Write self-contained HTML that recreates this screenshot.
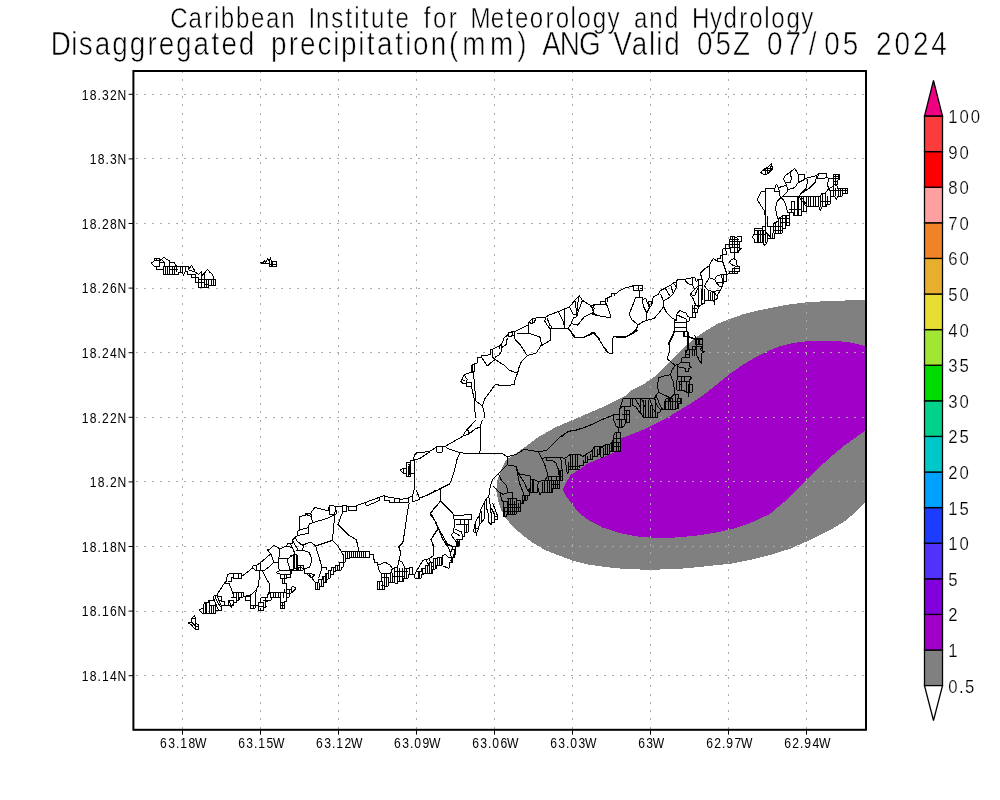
<!DOCTYPE html>
<html><head><meta charset="utf-8"><title>Disaggregated precipitation</title>
<style>
html,body{margin:0;padding:0;background:#fff;}
body{width:1000px;height:800px;overflow:hidden;}
svg{display:block;font-family:"Liberation Sans",sans-serif;}
</style></head><body>
<svg width="1000" height="800" viewBox="0 0 1000 800">
<rect x="0" y="0" width="1000" height="800" fill="#fff"/>
<polygon points="866.0,300.0 845.0,300.5 825.0,301.2 805.0,302.5 785.0,305.0 770.0,308.0 755.0,311.2 742.5,314.5 730.0,318.8 717.5,323.8 705.0,331.2 692.5,340.0 680.0,351.2 667.5,363.8 655.0,376.2 642.5,385.0 630.0,391.2 625.0,396.2 607.5,405.0 590.0,412.5 572.5,420.0 555.0,427.5 537.5,437.5 522.5,448.8 506.2,460.0 501.2,470.0 497.5,480.0 496.2,490.0 498.0,500.0 501.2,510.0 506.2,518.8 513.8,527.5 522.5,535.0 532.5,542.5 545.0,550.0 557.5,555.0 572.5,560.5 587.5,564.5 605.0,567.0 622.5,568.8 640.0,569.5 660.0,569.5 680.0,568.8 700.0,567.0 717.5,565.0 730.0,563.8 750.0,560.0 770.0,555.0 790.0,548.8 810.0,540.0 830.0,530.0 845.0,521.2 855.0,512.5 866.0,501.2" fill="#808080" shape-rendering="crispEdges"/>
<polygon points="866.0,346.2 857.5,344.0 847.5,342.0 835.0,340.8 820.0,340.8 805.0,341.5 792.5,343.0 780.0,346.2 767.5,351.2 755.0,357.5 742.5,365.0 730.0,373.8 717.5,383.8 705.0,393.8 692.5,402.5 680.0,410.0 667.5,417.5 655.0,423.8 642.5,430.0 630.0,435.0 620.0,438.6 620.0,450.2 611.0,453.8 602.0,457.6 587.6,463.6 578.0,470.6 570.8,474.6 566.0,482.8 563.0,489.5 566.2,496.2 572.5,505.0 580.0,513.8 590.0,521.2 602.5,527.5 617.5,532.5 635.0,536.2 655.0,538.0 675.0,537.5 695.0,535.8 712.5,533.2 730.0,529.5 737.5,527.5 755.0,521.2 770.0,513.8 785.0,501.2 800.0,486.2 815.0,471.2 830.0,457.5 845.0,445.0 857.5,436.2 866.0,430.0" fill="#a000c8" shape-rendering="crispEdges"/>
<g stroke="#aaaaaa" stroke-width="1" fill="none" shape-rendering="crispEdges"><g stroke-dasharray="2 6.3"><line x1="182.5" y1="71.0" x2="182.5" y2="729.8"/><line x1="260.5" y1="71.0" x2="260.5" y2="729.8"/><line x1="338.5" y1="71.0" x2="338.5" y2="729.8"/><line x1="416.5" y1="71.0" x2="416.5" y2="729.8"/><line x1="494.5" y1="71.0" x2="494.5" y2="729.8"/><line x1="572.5" y1="71.0" x2="572.5" y2="729.8"/><line x1="650.5" y1="71.0" x2="650.5" y2="729.8"/><line x1="728.5" y1="71.0" x2="728.5" y2="729.8"/><line x1="806.5" y1="71.0" x2="806.5" y2="729.8"/></g><g stroke-dasharray="2 6.07" stroke-dashoffset="5.9"><line x1="133.4" y1="94.3" x2="866.0" y2="94.3"/><line x1="133.4" y1="158.9" x2="866.0" y2="158.9"/><line x1="133.4" y1="223.5" x2="866.0" y2="223.5"/><line x1="133.4" y1="288.1" x2="866.0" y2="288.1"/><line x1="133.4" y1="352.7" x2="866.0" y2="352.7"/><line x1="133.4" y1="417.3" x2="866.0" y2="417.3"/><line x1="133.4" y1="481.9" x2="866.0" y2="481.9"/><line x1="133.4" y1="546.5" x2="866.0" y2="546.5"/><line x1="133.4" y1="611.1" x2="866.0" y2="611.1"/><line x1="133.4" y1="675.7" x2="866.0" y2="675.7"/></g></g>
<g fill="none" stroke="#000" stroke-width="1" stroke-linejoin="round" shape-rendering="crispEdges"><polyline points="151.2,263.2 154.4,260.8 154.4,258.4 159.5,258.4 159.5,260.8 161.6,259.2 163.7,257.3 166.4,259.2 169.6,260.8 169.6,262.4 174.4,262.4 176.0,265.6 178.4,266.4 188.0,266.4 188.0,269.6 189.6,268.0 191.5,265.3 193.6,268.8 195.2,272.0 198.4,274.4 201.6,272.0 201.6,276.0 204.0,273.6 207.5,269.6 210.4,272.8 212.8,274.4 213.6,279.2 215.5,279.7 215.5,285.6 208.8,285.6 208.8,287.5 198.4,287.5 198.4,282.4 195.2,282.4 195.2,277.6 191.2,277.6 191.2,274.4 187.7,274.4 187.7,271.2 184.8,272.0 183.5,275.2 182.4,272.0 178.4,272.0 178.4,274.4 163.2,274.4 163.2,269.6 156.8,269.6 156.8,266.4 154.4,266.4 151.2,263.2"/>
<polyline points="154.4,260.8 159.5,260.8 159.5,266.4 156.8,266.4"/>
<polyline points="156.8,258.4 156.8,260.8"/>
<polyline points="159.5,262.4 164.0,262.4 164.0,266.4 178.4,266.4"/>
<polyline points="163.2,269.6 163.2,266.4"/>
<polyline points="165.6,266.4 165.6,274.4"/>
<polyline points="167.2,266.4 167.2,274.4"/>
<polyline points="169.6,266.4 169.6,274.4"/>
<polyline points="172.8,266.4 172.8,274.4"/>
<polyline points="174.4,266.4 174.4,274.4"/>
<polyline points="176.8,266.4 176.8,272.0"/>
<polyline points="169.6,269.6 178.4,269.6"/>
<polyline points="180.8,266.4 180.8,272.0"/>
<polyline points="182.4,266.4 182.4,272.0"/>
<polyline points="185.6,266.4 185.6,272.0"/>
<polyline points="164.0,262.4 161.6,259.2"/>
<polyline points="169.6,262.4 169.6,266.4"/>
<polyline points="188.0,269.6 195.2,272.0"/>
<polyline points="191.2,274.4 195.2,274.4 195.2,277.6 198.4,277.6 198.4,282.4"/>
<polyline points="201.6,276.0 201.6,287.5"/>
<polyline points="204.0,273.6 204.0,287.5"/>
<polyline points="198.4,279.2 215.5,279.2"/>
<polyline points="206.4,279.2 206.4,287.5"/>
<polyline points="208.8,279.2 208.8,285.6"/>
<polyline points="211.2,279.2 211.2,285.6"/>
<polyline points="213.3,279.2 213.3,285.6"/>
<polyline points="198.4,282.4 204.0,282.4"/>
<polyline points="204.0,284.8 208.8,284.8"/>
<polyline points="260.3,262.9 263.2,262.4 264.8,260.8 266.4,261.6 267.7,258.9 269.3,261.6 270.4,257.3 271.5,261.6 276.3,261.6 276.3,266.4 269.3,266.4 269.3,263.2 266.4,264.0 263.2,263.2 260.3,262.9"/>
<polyline points="272.8,261.6 272.8,266.4"/>
<polyline points="271.2,261.6 271.2,266.4"/>
<polyline points="269.3,261.6 269.3,263.2"/>
<polyline points="269.3,264.0 276.3,264.0"/>
<polyline points="264.8,260.8 265.6,263.7"/>
<polyline points="188.1,623.1 191.2,621.9 191.9,618.1 194.4,615.6 195.6,618.1 195.6,623.8 198.8,624.4 198.8,629.4 195.6,629.4 192.5,626.2 191.2,624.4 188.1,623.1"/>
<polyline points="191.9,618.1 195.6,618.1"/>
<polyline points="191.9,618.1 191.9,622.5 195.6,626.2 195.6,623.8"/>
<polyline points="195.6,626.2 198.8,626.2"/>
<polyline points="195.6,626.2 195.6,629.4"/>
<polyline points="198.8,610.2 203.1,608.1 204.4,602.5 208.1,602.5 208.8,600.6 213.1,600.6 213.8,596.2 216.9,595.0 224.4,583.1 226.2,581.2 227.5,574.4 231.2,573.5 241.9,573.5 241.9,576.2 252.5,568.1 253.1,565.6 256.2,565.6 260.0,563.1 269.4,555.0 271.2,554.4 267.5,550.0 270.0,549.0 273.8,545.2 280.0,548.8 286.2,546.2 287.5,543.8 292.5,543.1 292.5,540.0"/>
<polyline points="198.8,610.2 202.5,613.5 215.6,613.5 215.6,610.6 221.2,610.6 221.2,605.6 228.1,605.6 228.1,603.1 229.4,600.6 231.2,608.1 233.8,602.5 236.2,602.5 236.2,600.6 238.8,600.6 240.0,597.5 243.8,596.9 245.6,596.2 245.6,600.6 250.6,600.6 250.6,608.1 255.0,608.1 255.0,605.0 258.1,605.0 258.1,610.2 263.8,610.2 263.8,608.1 266.9,606.2 265.0,605.6 265.0,602.5 267.5,601.2 267.5,600.0 271.2,600.0 271.2,597.5 280.6,597.5 280.6,608.1 284.4,608.1 284.4,601.9 286.2,601.9 286.2,597.5 289.4,596.9 289.4,593.8 291.9,592.5 296.2,588.1 292.5,586.2 290.6,589.4 286.9,589.4 286.9,583.1 282.5,583.1 282.5,578.8 280.6,578.8 280.6,574.4 276.2,572.5 280.0,570.6 278.8,568.8 278.8,558.8"/>
<polyline points="216.9,595.0 218.8,600.0 221.2,605.6"/>
<polyline points="215.0,596.2 217.5,602.5 221.2,607.5"/>
<polyline points="213.8,598.8 216.2,605.0 218.8,610.6"/>
<polyline points="216.9,596.9 221.2,596.9 221.2,601.2 224.4,601.2 224.4,605.0"/>
<polyline points="218.8,600.0 221.2,600.0"/>
<polyline points="205.6,602.5 205.6,613.5"/>
<polyline points="206.9,602.5 206.9,613.5"/>
<polyline points="209.4,600.6 209.4,613.5"/>
<polyline points="211.9,605.0 211.9,613.5"/>
<polyline points="213.8,605.0 213.8,613.5"/>
<polyline points="209.4,605.0 215.6,605.0 215.6,610.6"/>
<polyline points="203.1,608.1 203.1,613.5"/>
<polyline points="224.4,583.1 228.8,583.1 231.2,588.8 233.1,593.8 233.8,592.5 243.8,592.5 243.8,596.9"/>
<polyline points="227.5,581.2 231.9,581.2 231.9,577.5 233.1,577.5 233.1,573.5"/>
<polyline points="238.1,573.5 238.1,578.1"/>
<polyline points="233.1,578.1 241.9,578.1 241.9,576.2"/>
<polyline points="260.0,563.1 260.0,570.6 259.4,577.5 258.1,586.2 256.2,590.0 250.6,595.0 245.6,596.2"/>
<polyline points="256.2,590.0 255.0,605.0"/>
<polyline points="262.5,570.6 266.2,578.8 269.4,583.8 269.8,592.5"/>
<polyline points="252.5,568.1 255.0,570.0 260.0,570.6 265.0,570.0 270.0,566.2 273.8,562.5 278.1,562.5 278.1,558.8"/>
<polyline points="256.2,565.6 256.2,570.0"/>
<polyline points="271.2,554.4 273.8,562.5"/>
<polyline points="280.0,548.8 278.8,558.8 287.5,558.8 293.1,555.0 293.1,569.4 290.0,570.0 286.9,558.8"/>
<polyline points="278.1,562.5 278.8,568.8"/>
<polyline points="293.1,555.0 295.0,553.8 292.5,547.5 286.2,546.2"/>
<polyline points="294.4,555.0 294.4,569.4"/>
<polyline points="296.2,553.8 296.2,570.0"/>
<polyline points="297.5,555.0 297.5,570.0"/>
<polyline points="297.5,565.0 303.1,565.0 303.1,570.0 293.1,570.0"/>
<polyline points="300.0,565.0 300.0,570.0"/>
<polyline points="280.6,574.4 290.0,574.4"/>
<polyline points="282.5,578.8 286.9,578.8"/>
<polyline points="284.4,574.4 284.4,583.1"/>
<polyline points="286.9,574.4 286.9,578.8"/>
<polyline points="290.0,570.6 290.0,577.5 286.9,577.5"/>
<polyline points="280.0,570.6 290.0,570.6"/>
<polyline points="267.5,592.5 286.2,592.5"/>
<polyline points="270.0,592.5 270.0,597.5"/>
<polyline points="273.1,592.5 273.1,597.5"/>
<polyline points="275.6,592.5 275.6,597.5"/>
<polyline points="278.1,592.5 278.1,597.5"/>
<polyline points="280.6,592.5 280.6,597.5"/>
<polyline points="283.1,592.5 283.1,597.5"/>
<polyline points="286.2,589.4 286.2,597.5"/>
<polyline points="284.4,589.4 284.4,592.5"/>
<polyline points="289.4,589.4 289.4,593.8"/>
<polyline points="291.9,589.4 291.9,592.5"/>
<polyline points="286.2,593.8 289.4,593.8"/>
<polyline points="258.1,602.5 263.1,602.5 263.1,608.1"/>
<polyline points="260.6,597.5 260.6,602.5"/>
<polyline points="260.6,597.5 267.5,597.5 267.5,595.0 269.8,592.5"/>
<polyline points="258.1,602.5 258.1,605.0"/>
<polyline points="263.1,600.0 267.5,600.0"/>
<polyline points="265.0,597.5 265.0,602.5"/>
<polyline points="250.6,605.0 255.0,605.0"/>
<polyline points="253.1,605.0 253.1,608.1"/>
<polyline points="260.6,608.1 260.6,610.2"/>
<polyline points="258.1,606.9 263.8,606.9"/>
<polyline points="280.6,602.5 284.4,602.5"/>
<polyline points="282.5,602.5 282.5,608.1"/>
<polyline points="280.6,605.0 284.4,605.0"/>
<polyline points="228.1,600.6 233.8,600.6 233.8,605.0 228.1,605.0"/>
<polyline points="231.2,597.5 236.2,597.5 236.2,600.6"/>
<polyline points="233.8,592.5 233.8,597.5"/>
<polyline points="238.8,592.5 238.8,600.6"/>
<polyline points="241.2,592.5 241.2,596.9"/>
<polyline points="236.2,592.5 236.2,597.5"/>
<polyline points="245.6,596.2 250.0,596.2 250.0,600.6"/>
<polyline points="292.6,539.9 297.2,535.6 298.0,530.8 299.6,530.0 299.6,516.4 305.2,515.6 305.2,514.0 310.8,513.2 311.6,511.6 314.8,507.6 322.0,509.2 328.4,510.8 329.2,506.0 331.9,505.2 335.6,506.8 342.0,506.0 346.8,505.7 346.8,506.8 350.0,506.0 356.4,506.8 357.2,505.2 365.2,502.5 366.8,502.0 379.6,497.2 384.4,495.3 384.4,496.7 390.0,497.2 394.0,498.0 399.6,498.0 399.6,499.6 408.4,498.0 409.2,497.2 412.4,496.4 414.0,490.0"/>
<polyline points="416.4,490.0 419.3,498.0 422.8,497.2 429.2,494.0 434.8,490.8 438.0,490.0"/>
<polyline points="329.2,506.0 329.2,514.0 334.8,514.0 335.6,506.8"/>
<polyline points="342.0,506.0 342.0,511.6 346.8,511.6 346.8,505.7"/>
<polyline points="348.4,506.8 348.4,510.8 356.4,510.8 356.4,506.8"/>
<polyline points="365.2,503.6 366.8,506.0 379.6,500.4 379.6,497.2"/>
<polyline points="384.4,496.7 384.4,500.4 389.2,500.4 389.2,502.8 399.6,502.8 399.6,498.0"/>
<polyline points="394.0,498.0 394.0,502.8"/>
<polyline points="399.6,502.8 408.4,502.8 408.4,498.0"/>
<polyline points="412.4,496.4 412.4,502.0 419.3,499.6 419.3,498.0"/>
<polyline points="299.6,530.0 308.4,527.6 309.2,523.6 312.4,522.8 328.4,518.0 334.8,514.8"/>
<polyline points="310.8,513.2 312.4,522.8"/>
<polyline points="305.2,514.0 310.8,516.4"/>
<polyline points="297.2,535.6 308.4,533.2 308.4,527.6"/>
<polyline points="335.6,506.8 336.4,514.0 334.8,514.8 333.2,531.6 332.4,540.4"/>
<polyline points="342.8,511.6 338.0,524.4 349.2,535.6 356.4,539.6 358.8,550.8"/>
<polyline points="332.4,540.4 315.6,546.0 310.8,542.0 304.4,544.4 302.0,550.0 296.4,550.8"/>
<polyline points="332.4,540.4 338.0,546.0 341.2,551.6 345.2,551.6"/>
<polyline points="315.6,546.0 318.0,554.0 321.2,564.4 321.2,570.0 318.8,578.0"/>
<polyline points="302.0,550.0 309.2,552.4 311.6,558.8 311.6,562.0 309.2,567.6 305.2,568.4"/>
<polyline points="294.8,536.4 297.2,541.2 302.0,545.2 304.4,544.4"/>
<polyline points="292.4,539.6 294.8,544.4 298.0,550.0"/>
<polyline points="290.0,542.8 293.2,549.2 294.8,554.0"/>
<polyline points="290.0,555.6 296.4,554.8 296.4,565.2 298.8,567.6 304.4,568.4 304.4,573.2 308.4,573.2 314.8,574.8 311.6,578.0 306.8,574.0"/>
<polyline points="293.2,555.6 293.2,570.0 290.0,570.0"/>
<polyline points="294.8,558.8 294.8,568.4 298.8,568.4 298.8,570.0 302.8,570.0"/>
<polyline points="290.0,573.2 291.6,573.2 291.6,570.0"/>
<polyline points="308.4,573.2 315.6,582.8 315.6,589.2 319.6,589.2 319.6,586.0 323.6,586.0 323.6,582.8 326.8,582.0 326.8,579.6 330.0,578.0 330.0,574.8 333.2,574.8 333.2,571.6 337.2,570.8 337.2,570.0 341.2,570.0 341.2,567.6 343.6,566.8 343.6,562.8 345.2,562.0 345.2,558.8 349.2,558.8 349.2,557.2 369.2,557.2 369.2,554.8 373.2,554.8 373.2,559.6 374.8,559.6 374.8,562.8 377.7,562.8 377.7,565.2 379.6,571.6 381.2,573.2 381.2,581.2 377.7,581.2 377.7,589.2 384.4,589.2 384.4,586.0 388.4,586.0 388.4,582.8 394.0,582.8 397.2,583.6 397.2,581.2 403.6,581.2 403.6,578.0 408.4,578.0 408.4,574.8 414.8,574.8 414.8,578.0 421.2,578.0 421.2,574.8 426.0,573.2 432.4,573.2 432.4,570.0 436.4,568.4 436.4,566.0 442.0,565.2 442.8,555.6 445.2,554.0 448.4,557.2 450.0,557.2"/>
<polyline points="341.2,551.6 369.2,551.6 369.2,554.8"/>
<polyline points="345.2,551.6 345.2,558.8"/>
<polyline points="347.3,551.6 347.3,558.8"/>
<polyline points="349.2,551.6 349.2,557.2"/>
<polyline points="351.6,551.6 351.6,557.2"/>
<polyline points="353.7,551.6 353.7,557.2"/>
<polyline points="355.6,551.6 355.6,557.2"/>
<polyline points="357.5,551.6 357.5,557.2"/>
<polyline points="359.6,551.6 359.6,557.2"/>
<polyline points="361.7,551.6 361.7,557.2"/>
<polyline points="363.6,551.6 363.6,557.2"/>
<polyline points="365.2,551.6 365.2,557.2"/>
<polyline points="341.2,551.6 343.6,555.6 343.6,562.8"/>
<polyline points="343.6,562.8 339.6,562.8 339.6,565.2 335.6,565.2 335.6,567.6 331.9,567.6 331.9,570.0 328.4,570.0 328.4,573.2 325.2,573.2 325.2,576.4 322.0,576.4 322.0,579.6 318.8,579.6 318.8,582.8 315.6,582.8"/>
<polyline points="339.6,565.2 339.6,570.0"/>
<polyline points="337.2,565.2 337.2,570.0"/>
<polyline points="335.6,567.6 335.6,570.8"/>
<polyline points="333.2,567.6 333.2,571.6"/>
<polyline points="330.0,570.0 330.0,574.8"/>
<polyline points="328.4,573.2 328.4,578.8"/>
<polyline points="326.8,573.2 326.8,579.6"/>
<polyline points="323.6,576.4 323.6,582.8"/>
<polyline points="325.2,576.4 325.2,582.0"/>
<polyline points="321.2,579.6 321.2,586.0"/>
<polyline points="319.6,582.8 319.6,586.0"/>
<polyline points="317.5,582.8 317.5,589.2"/>
<polyline points="322.0,567.6 326.8,567.6 326.8,570.0"/>
<polyline points="377.7,565.2 385.2,562.3 390.0,565.2 392.4,568.4 390.8,573.2 381.2,573.2"/>
<polyline points="392.4,568.4 395.6,567.6 397.5,567.6 398.8,560.4 402.0,562.0 405.2,568.4 409.2,568.4 409.2,567.6 412.4,567.6 412.4,574.8"/>
<polyline points="381.2,577.2 388.4,577.2 388.4,582.8"/>
<polyline points="384.4,573.2 384.4,586.0"/>
<polyline points="386.0,573.2 386.0,586.0"/>
<polyline points="379.6,581.2 379.6,589.2"/>
<polyline points="382.0,581.2 382.0,589.2"/>
<polyline points="390.8,573.2 390.8,582.8"/>
<polyline points="392.4,573.2 392.4,582.8"/>
<polyline points="394.8,568.4 394.8,582.8"/>
<polyline points="397.2,567.6 397.2,581.2"/>
<polyline points="399.6,568.4 399.6,581.2"/>
<polyline points="402.0,568.4 402.0,581.2"/>
<polyline points="404.4,568.4 404.4,578.0"/>
<polyline points="406.8,568.4 406.8,578.0"/>
<polyline points="409.2,568.4 409.2,574.8"/>
<polyline points="392.4,576.4 403.6,576.4"/>
<polyline points="394.8,571.6 408.4,571.6"/>
<polyline points="381.2,585.2 384.4,585.2"/>
<polyline points="409.2,502.8 407.6,510.8 406.0,522.0 404.4,533.2 402.8,542.8 398.8,546.8 400.4,551.6 399.6,560.4"/>
<polyline points="440.4,490.0 440.4,501.2 430.0,514.0 434.8,520.4 438.0,528.4 430.8,539.6 434.0,546.0 433.2,555.6 429.2,558.8 422.8,560.4 418.0,568.4 416.4,571.6 414.8,574.8"/>
<polyline points="440.4,501.2 450.0,510.8"/>
<polyline points="434.8,520.4 440.4,531.6 447.6,544.4 450.0,546.0"/>
<polyline points="416.4,571.6 421.2,571.6 421.2,568.4 425.2,568.4 425.2,565.2 429.2,565.2 429.2,562.0 433.2,562.0 433.2,558.8 437.2,558.8 437.2,557.2 442.8,557.2"/>
<polyline points="418.0,571.6 418.0,578.0"/>
<polyline points="419.6,571.6 419.6,578.0"/>
<polyline points="422.8,568.4 422.8,574.8"/>
<polyline points="425.2,568.4 425.2,573.2"/>
<polyline points="427.3,565.2 427.3,573.2"/>
<polyline points="429.2,565.2 429.2,573.2"/>
<polyline points="431.1,562.0 431.1,573.2"/>
<polyline points="433.2,562.0 433.2,570.0"/>
<polyline points="435.3,558.8 435.3,568.7"/>
<polyline points="437.2,558.8 437.2,566.0"/>
<polyline points="439.1,557.2 439.1,565.5"/>
<polyline points="441.0,557.2 441.0,565.2"/>
<polyline points="429.2,558.8 432.4,566.8"/>
<polyline points="426.0,560.4 429.2,565.2"/>
<polyline points="420.0,452.8 429.6,451.2 436.8,447.2 436.8,446.4 442.4,446.4 442.4,452.0 436.8,452.0 436.8,447.2"/>
<polyline points="442.4,446.4 445.6,446.4 446.4,445.6 463.2,436.0 465.6,431.2 468.0,430.4 469.6,433.6 463.2,436.0"/>
<polyline points="469.6,433.6 475.2,428.8 480.0,427.2 480.8,431.2 480.8,447.2 479.5,453.6"/>
<polyline points="465.6,431.2 476.0,420.0"/>
<polyline points="480.0,427.2 482.4,420.0"/>
<polyline points="420.0,458.4 429.6,452.0"/>
<polyline points="445.6,446.4 448.0,448.8 460.0,452.8 472.0,453.6 479.5,453.6 490.4,453.6 502.4,453.6 507.2,456.8 508.0,460.0 507.2,464.8 498.4,473.6 492.8,479.2 490.4,485.6 488.8,496.8 486.4,498.4 480.8,509.6 479.2,516.0 476.8,519.2 474.4,525.6 473.6,532.0 476.0,532.0 476.0,536.0"/>
<polyline points="460.0,452.8 456.8,460.0 454.4,471.2 451.2,480.8 449.6,484.0 440.0,488.8 429.6,494.4 420.0,497.6"/>
<polyline points="440.0,488.8 440.8,500.8 430.4,512.8 436.0,522.4 438.4,528.8 431.2,539.2 433.6,548.0"/>
<polyline points="438.4,528.8 442.4,538.4 447.2,546.4"/>
<polyline points="440.8,500.8 447.2,507.2 453.6,514.4 454.4,524.0 453.6,532.0 451.2,535.2 454.4,539.2 456.0,541.6 456.0,546.4 458.4,546.4"/>
<polyline points="453.6,515.2 462.4,515.2 468.0,514.4 471.2,514.4 471.2,519.2 468.0,519.2 468.0,532.0 464.8,532.0 464.8,536.0 462.4,536.0 462.4,539.2 459.2,539.2 459.2,546.4"/>
<polyline points="454.4,519.2 468.0,519.2"/>
<polyline points="456.0,524.0 468.0,524.0"/>
<polyline points="460.0,519.2 460.0,524.0"/>
<polyline points="464.0,519.2 464.0,532.0"/>
<polyline points="466.4,524.0 466.4,532.0"/>
<polyline points="454.4,528.8 461.6,532.0 462.4,536.0"/>
<polyline points="453.6,532.0 460.0,536.0"/>
<polyline points="456.0,539.2 459.2,539.2"/>
<polyline points="456.0,541.6 459.2,541.6"/>
<polyline points="457.6,539.2 457.6,546.4"/>
<polyline points="507.2,456.8 516.0,454.4 524.0,449.6 532.0,450.4 538.4,452.0 546.4,450.4 552.8,444.0 559.2,437.6 567.2,432.0 573.6,430.4 580.0,429.6"/>
<polyline points="538.4,452.0 541.6,458.4 544.8,464.8 547.2,472.8 548.0,476.0"/>
<polyline points="541.6,458.4 546.4,457.6 552.8,457.6 560.8,457.6 564.8,458.4 570.4,454.4 580.0,454.4"/>
<polyline points="552.8,460.8 556.0,463.2 558.4,469.6 559.2,476.0"/>
<polyline points="546.4,457.6 546.4,460.0 552.8,460.8"/>
<polyline points="560.8,457.6 561.6,468.0 562.4,470.4 562.4,480.8"/>
<polyline points="564.8,458.4 565.6,461.6 567.2,473.6 568.8,471.2 568.8,461.6"/>
<polyline points="570.4,454.4 570.4,469.6"/>
<polyline points="572.8,454.4 572.8,469.6"/>
<polyline points="575.2,454.4 575.2,469.6"/>
<polyline points="577.6,454.4 577.6,469.6"/>
<polyline points="568.8,466.4 580.0,466.4"/>
<polyline points="568.8,469.6 580.0,469.6"/>
<polyline points="507.2,464.8 516.0,466.4 518.4,473.6 530.4,476.0 530.4,479.2 533.6,479.2 533.6,492.0 529.6,492.0 529.6,488.8 527.2,489.6"/>
<polyline points="516.0,466.4 517.6,474.4 519.2,482.4 522.4,490.4 524.0,495.2"/>
<polyline points="518.4,473.6 524.8,483.2 527.2,489.6 529.6,492.0"/>
<polyline points="498.4,473.6 501.6,480.8 506.4,485.6 508.0,492.8 512.8,492.8 512.8,498.4"/>
<polyline points="492.8,485.6 500.0,492.8 503.2,494.4 508.0,492.8"/>
<polyline points="500.0,492.8 501.6,500.0 503.2,501.6 503.2,516.8 506.4,516.8 506.4,514.4 516.0,514.4 516.0,511.2 520.5,511.2 520.5,503.2 523.2,503.2 523.2,500.0 527.2,500.0 527.2,495.2 529.6,495.2 529.6,492.0"/>
<polyline points="503.2,501.6 507.2,501.6 507.2,514.4"/>
<polyline points="508.8,498.4 508.8,514.4"/>
<polyline points="510.4,498.4 510.4,514.4"/>
<polyline points="512.8,498.4 512.8,514.4"/>
<polyline points="514.4,500.8 514.4,514.4"/>
<polyline points="516.8,500.8 516.8,511.2"/>
<polyline points="518.4,503.2 518.4,511.2"/>
<polyline points="507.2,498.4 516.0,498.4 516.0,500.8 520.5,500.8 520.5,503.2"/>
<polyline points="503.2,507.2 520.5,507.2"/>
<polyline points="507.2,504.0 516.8,504.0"/>
<polyline points="524.0,495.2 524.0,500.0"/>
<polyline points="525.6,495.2 525.6,500.0"/>
<polyline points="522.4,495.2 527.2,495.2"/>
<polyline points="522.4,495.2 522.4,503.2"/>
<polyline points="503.2,511.2 516.0,511.2"/>
<polyline points="504.8,507.2 504.8,516.8"/>
<polyline points="533.6,479.2 538.4,481.6 537.6,487.2 540.0,495.2 541.6,492.0 552.8,492.0 552.8,488.8 559.2,488.8 559.2,480.8 562.4,480.8"/>
<polyline points="548.0,476.0 562.4,476.0"/>
<polyline points="548.0,476.0 544.8,480.0 538.4,481.6"/>
<polyline points="544.8,480.0 559.2,480.0"/>
<polyline points="542.4,482.4 542.4,492.0"/>
<polyline points="544.8,480.0 544.8,492.0"/>
<polyline points="547.2,480.0 547.2,492.0"/>
<polyline points="549.3,480.0 549.3,492.0"/>
<polyline points="551.2,480.0 551.2,492.0"/>
<polyline points="553.6,480.8 553.6,488.8"/>
<polyline points="555.7,480.8 555.7,488.8"/>
<polyline points="557.6,480.8 557.6,488.8"/>
<polyline points="548.0,476.0 548.0,480.0"/>
<polyline points="551.2,476.0 551.2,480.0"/>
<polyline points="556.0,476.0 556.0,480.8"/>
<polyline points="533.6,492.0 537.6,492.0 537.6,487.2"/>
<polyline points="559.2,480.8 559.2,470.4 562.4,470.4"/>
<polyline points="560.8,470.4 560.8,480.8"/>
<polyline points="551.2,484.0 559.2,484.0"/>
<polyline points="530.4,479.2 530.4,492.0"/>
<polyline points="532.0,479.2 532.0,492.0"/>
<polyline points="488.8,496.8 490.4,506.4 491.2,514.4 491.2,524.8 488.8,522.4 488.8,516.0 486.4,507.2 486.4,498.4"/>
<polyline points="490.4,506.4 494.4,514.4 494.4,522.4 491.2,522.4"/>
<polyline points="494.4,516.0 497.6,516.0 497.6,519.2 494.4,519.2"/>
<polyline points="492.8,503.2 495.2,509.6 497.6,516.0"/>
<polyline points="480.8,509.6 481.6,516.0 481.6,522.4 479.2,524.8 477.6,532.0"/>
<polyline points="484.0,503.2 484.0,519.2 481.6,522.4"/>
<polyline points="479.2,516.0 479.2,525.6"/>
<polyline points="473.6,528.8 477.6,528.8"/>
<polyline points="475.2,522.4 475.2,532.0"/>
<polyline points="570.4,330.0 572.8,335.6 576.0,338.0 584.0,337.2 590.4,334.8 594.4,332.4 598.4,338.0 603.2,346.0 609.6,354.0 612.8,353.2 612.8,338.0 615.2,336.4 627.2,336.4 633.6,333.2 637.6,330.0"/>
<polyline points="674.4,330.0 672.0,336.4 668.8,342.8 669.6,350.8 667.2,358.8 672.0,362.8 675.2,365.2 678.4,364.4 681.6,362.0 681.6,358.0 685.6,357.2 685.6,350.8 689.6,349.2 696.0,349.2 696.0,338.8 702.4,338.8 702.4,350.8 704.8,351.6 701.6,353.2 701.6,363.6 699.2,360.4 697.6,356.4 696.0,355.6 696.0,349.2"/>
<polyline points="674.4,330.0 674.4,331.6 684.0,331.6 684.0,336.4 688.0,336.4 688.0,331.6 684.0,331.6"/>
<polyline points="688.0,336.4 696.0,338.8"/>
<polyline points="688.0,336.4 688.0,349.2"/>
<polyline points="695.2,335.6 696.0,338.8"/>
<polyline points="696.0,344.4 702.4,344.4"/>
<polyline points="699.2,338.8 699.2,344.4"/>
<polyline points="689.6,349.2 689.6,357.2 681.6,358.0"/>
<polyline points="692.0,349.2 692.0,356.4"/>
<polyline points="694.4,349.2 694.4,355.6"/>
<polyline points="685.6,354.0 689.6,354.0"/>
<polyline points="681.6,362.0 689.6,362.0 689.6,366.0 692.0,367.6 688.8,368.4 688.8,371.6 685.6,371.6 685.6,368.4 678.4,366.8 677.6,365.2"/>
<polyline points="675.2,365.2 672.0,370.0 670.4,374.8 662.4,376.4 658.4,378.0 657.6,386.0 658.4,392.4 656.0,395.6 654.4,398.8"/>
<polyline points="670.4,374.8 673.6,382.8 674.4,390.8 674.4,394.0 678.4,394.0 678.4,398.0 681.6,398.0 681.6,403.6 678.4,403.6 678.4,408.4 675.2,408.4 675.2,409.2 664.0,409.2"/>
<polyline points="677.6,365.2 677.6,376.4 689.6,376.4 692.0,378.0 689.6,379.6 689.6,384.4 692.0,384.4 692.0,392.4 688.8,392.4 688.8,396.4 688.0,392.4 684.8,391.6 684.8,390.0 676.8,390.0 676.8,381.2 677.6,376.4"/>
<polyline points="681.6,376.4 681.6,390.0"/>
<polyline points="679.2,381.2 679.2,390.0"/>
<polyline points="677.6,381.2 689.6,381.2"/>
<polyline points="686.4,381.2 686.4,391.6"/>
<polyline points="688.0,384.4 688.0,392.4"/>
<polyline points="689.6,384.4 689.6,392.4"/>
<polyline points="679.2,384.4 681.6,384.4"/>
<polyline points="684.0,376.4 684.0,381.2"/>
<polyline points="658.4,392.4 665.6,395.6 670.4,398.0 674.4,394.0"/>
<polyline points="670.4,398.0 668.8,401.2 668.8,409.2"/>
<polyline points="656.0,395.6 660.8,406.8 662.4,409.2"/>
<polyline points="654.4,398.8 623.2,398.8 620.0,408.4 621.6,406.8 630.4,406.8 630.4,398.8"/>
<polyline points="624.0,406.8 624.0,410.0 629.6,410.0 629.6,422.8 625.6,422.8 624.0,426.0 621.6,427.6 619.2,427.6 616.0,426.0 613.6,419.6 613.6,414.8 619.2,414.0 620.0,408.4"/>
<polyline points="632.0,398.8 632.0,405.2 636.0,406.8 638.4,410.8 641.6,414.0 643.2,417.2 657.6,417.2 657.6,412.4 660.0,412.4 661.6,409.2 664.0,409.2 664.0,401.2 665.6,401.2"/>
<polyline points="640.0,398.8 640.0,411.6"/>
<polyline points="643.2,400.4 643.2,417.2"/>
<polyline points="645.6,400.4 645.6,417.2"/>
<polyline points="648.0,400.4 648.0,417.2"/>
<polyline points="650.4,405.2 650.4,417.2"/>
<polyline points="652.8,405.2 652.8,417.2"/>
<polyline points="655.2,398.8 655.2,417.2"/>
<polyline points="635.2,398.8 640.0,406.8"/>
<polyline points="641.6,398.8 644.8,406.8"/>
<polyline points="649.6,398.8 652.8,408.4 656.0,413.2"/>
<polyline points="654.4,398.8 657.6,406.8 660.8,410.0"/>
<polyline points="665.6,398.8 665.6,409.2"/>
<polyline points="668.0,398.8 668.0,409.2"/>
<polyline points="670.4,398.8 670.4,409.2"/>
<polyline points="672.8,398.0 672.8,409.2"/>
<polyline points="675.2,394.0 675.2,409.2"/>
<polyline points="677.6,398.0 677.6,408.4"/>
<polyline points="680.0,398.0 680.0,403.6"/>
<polyline points="665.6,401.2 681.6,401.2"/>
<polyline points="665.6,398.8 672.0,398.8"/>
<polyline points="613.6,414.8 608.0,417.2 600.0,420.4 592.0,424.4 584.0,427.6 576.0,430.0 571.2,430.8 566.4,432.4 563.2,435.6 560.0,437.2"/>
<polyline points="616.0,426.0 618.4,427.6 618.4,432.4 615.2,432.4 613.6,435.6 613.6,442.0 620.0,442.0 620.0,432.4 618.4,432.4"/>
<polyline points="613.6,438.8 620.0,438.8"/>
<polyline points="616.0,432.4 616.0,442.0"/>
<polyline points="613.6,442.0 613.6,451.6 620.0,451.6 620.0,442.0"/>
<polyline points="616.0,442.0 616.0,451.6"/>
<polyline points="618.4,442.0 618.4,451.6"/>
<polyline points="613.6,446.8 620.0,446.8"/>
<polyline points="621.6,427.6 621.6,419.6 625.6,419.6 625.6,422.8"/>
<polyline points="619.2,414.0 619.2,427.6"/>
<polyline points="624.0,410.0 624.0,419.6"/>
<polyline points="626.4,410.0 626.4,422.8"/>
<polyline points="616.0,419.6 621.6,419.6"/>
<polyline points="621.6,414.8 629.6,414.8"/>
<polyline points="460.8,381.2 464.0,374.8 471.2,372.4 472.0,365.2 474.4,363.6 477.6,362.8 477.6,357.2 481.6,357.2 481.6,355.6 490.4,354.8 490.4,350.0 492.8,349.2 499.2,346.0 501.6,344.4 504.0,338.0 507.2,335.6 508.8,332.4 514.4,331.6 516.8,330.8 528.0,325.2 528.8,322.0 532.8,318.8 536.0,318.0 545.6,317.2 549.6,314.8 558.4,311.6 569.6,306.8 572.8,302.8 579.2,295.6 582.4,300.4 588.8,304.4 592.8,306.0 596.0,304.4 600.0,304.4"/>
<polyline points="460.8,381.2 463.2,383.6 466.4,382.8 466.4,386.0 471.2,386.0 471.2,382.8 466.4,382.8"/>
<polyline points="464.0,374.8 467.2,379.6 466.4,382.8"/>
<polyline points="462.4,379.6 465.6,381.2"/>
<polyline points="471.2,386.0 472.8,392.4 474.4,400.4 474.4,408.4 476.0,418.0"/>
<polyline points="471.2,372.4 473.6,372.4 474.4,384.4 475.2,392.4 475.2,400.4 482.4,406.0 484.0,411.6 484.0,418.0"/>
<polyline points="474.4,400.4 475.2,400.4"/>
<polyline points="472.0,365.2 472.0,371.6 474.4,371.6 474.4,363.6"/>
<polyline points="482.4,406.0 484.8,398.8 489.6,392.4 495.2,384.4 504.0,386.0 510.4,385.2 514.4,384.4 515.2,378.8 517.6,373.2 519.2,366.8 521.6,361.2 527.2,355.6"/>
<polyline points="481.6,357.2 487.2,366.0 493.6,360.4 495.2,359.6 504.0,365.2 508.8,370.0 517.6,373.2"/>
<polyline points="490.4,350.0 490.4,354.8"/>
<polyline points="492.8,349.2 492.8,357.2 495.2,359.6"/>
<polyline points="495.2,357.2 499.2,354.8 501.6,350.8 501.6,344.4 499.2,345.2 499.2,349.2"/>
<polyline points="501.6,347.6 506.4,344.4 507.2,338.0"/>
<polyline points="508.8,332.4 508.8,336.4 514.4,335.6 514.4,331.6"/>
<polyline points="512.8,331.6 512.8,335.6"/>
<polyline points="514.4,335.6 515.2,339.6 520.0,344.4 523.2,349.2 527.2,355.6"/>
<polyline points="527.2,355.6 536.0,353.2 540.8,346.0 550.4,340.4 550.4,328.4 568.0,328.4 572.8,334.0 576.0,338.0 584.0,337.2 593.6,332.4 600.0,339.6"/>
<polyline points="516.8,333.2 528.8,333.2 536.0,335.6 540.0,337.2 541.6,344.4 540.8,346.0"/>
<polyline points="528.8,325.2 528.8,333.2"/>
<polyline points="528.0,322.0 532.0,323.6 532.8,318.8"/>
<polyline points="536.0,318.0 534.4,322.0 532.0,323.6"/>
<polyline points="545.6,317.2 544.8,321.2 548.8,327.6 550.4,328.4"/>
<polyline points="547.2,318.0 549.6,325.2 551.2,326.0 551.2,328.4"/>
<polyline points="558.4,311.6 563.2,321.2 564.8,328.4"/>
<polyline points="564.8,309.2 564.8,328.4"/>
<polyline points="569.6,306.8 572.8,314.0 576.0,314.0 576.0,317.2 573.6,317.2 571.2,323.6 568.0,328.4"/>
<polyline points="575.2,301.2 576.8,314.0"/>
<polyline points="579.2,295.6 577.6,304.4 576.8,314.0"/>
<polyline points="582.4,300.4 578.4,310.8 576.8,316.4"/>
<polyline points="571.2,323.6 577.6,325.2 584.0,317.2 592.8,312.4 594.4,308.4 592.8,306.0"/>
<polyline points="592.8,312.4 595.2,314.8 600.0,315.6"/>
<polyline points="590.0,305.0 593.2,305.0 600.4,304.2 600.4,301.8 605.2,301.8 605.2,298.6 607.6,297.8 611.6,296.2 611.6,293.8 616.4,293.8 619.6,290.6 624.4,288.2 633.2,285.8 642.0,285.5 642.0,290.6 639.6,290.6 639.6,297.0 642.0,297.0 642.0,299.4 646.0,298.6 647.6,303.4 648.4,301.8 651.6,301.8 651.6,305.8 653.2,297.0 658.8,293.8 660.4,290.6 665.2,288.2 670.8,285.0 673.2,282.6 676.4,282.6 677.2,279.4 684.4,279.4 692.4,277.8 694.8,277.8 696.4,281.8 698.0,279.4 702.0,279.4 700.4,273.0 704.4,269.0 709.2,265.8 710.8,262.6 713.2,258.6 717.2,261.0 718.0,258.6 720.4,258.6 720.4,255.4 722.8,254.6 722.8,249.0 725.2,248.2 725.2,244.2 729.2,244.2 729.2,239.4 730.8,239.4 730.8,236.5 734.8,236.5 734.8,237.8 738.8,236.5 741.2,236.5 741.2,241.8 739.6,241.8 739.6,248.2 742.0,248.2 738.8,250.6 738.8,252.2 734.0,252.2 734.0,258.6 736.4,260.2 737.2,266.6 739.6,266.6 739.6,271.4 737.2,271.4 737.2,273.8 729.2,273.8 726.0,274.6 726.0,281.8 723.6,281.8 722.0,286.6 720.4,290.6 718.0,293.8 717.2,298.6 714.8,300.2 714.8,304.2 713.2,300.2 708.4,300.2 704.4,300.2 704.4,303.4 702.0,304.2 698.8,306.6 697.2,312.2 695.6,312.2 695.6,317.0 689.2,317.0 689.2,321.0 686.0,321.8 686.0,330.6 687.6,331.4 687.6,337.0 695.6,339.4 694.8,335.4 695.6,339.4 702.0,339.4 702.0,346.6 700.4,349.8 704.4,352.2"/>
<polyline points="590.0,305.0 592.4,308.2 593.2,312.2 591.6,313.8 596.4,315.4 606.0,317.0 610.8,317.0 609.2,311.4 606.8,305.0 605.2,301.8"/>
<polyline points="600.4,304.2 606.8,305.0"/>
<polyline points="605.2,298.6 607.6,298.6 607.6,301.8"/>
<polyline points="614.0,293.8 614.0,296.2"/>
<polyline points="633.2,285.8 633.2,290.6 639.6,290.6"/>
<polyline points="638.0,285.8 638.0,290.6"/>
<polyline points="639.6,288.2 642.0,288.2"/>
<polyline points="648.4,301.8 648.4,306.6 651.6,305.8"/>
<polyline points="590.0,333.8 593.2,332.2 599.6,340.2 604.4,348.2 607.6,353.0"/>
<polyline points="612.4,353.0 612.4,338.6 614.0,336.2 616.4,337.0 626.0,337.0 633.2,332.2 636.4,329.0 638.0,325.0 631.6,319.4 629.2,313.8 631.6,308.2 635.6,297.8 639.6,297.0"/>
<polyline points="638.0,325.0 642.8,321.8 646.8,320.2 654.0,318.6 658.8,313.0 663.6,306.6 663.6,301.0 660.4,293.8"/>
<polyline points="646.8,320.2 646.8,313.0 643.6,306.6 642.0,299.4"/>
<polyline points="646.8,313.0 650.0,306.6 648.4,301.8"/>
<polyline points="663.6,306.6 666.8,313.0 671.6,317.8 676.4,320.2 676.4,314.6 679.6,310.6 686.0,313.0 687.6,316.2 689.2,317.0"/>
<polyline points="676.4,314.6 686.8,319.4 686.0,321.8"/>
<polyline points="674.8,322.6 686.0,322.6"/>
<polyline points="674.8,327.4 686.0,327.4"/>
<polyline points="676.4,320.2 674.8,320.2 674.8,331.4 686.0,331.4"/>
<polyline points="674.8,331.4 672.4,337.0 669.2,343.4 669.2,353.0"/>
<polyline points="683.6,331.4 683.6,336.2 687.6,337.0"/>
<polyline points="663.6,301.0 670.0,297.0 673.2,293.8 676.4,287.4 677.2,279.4"/>
<polyline points="665.2,288.2 670.0,296.2"/>
<polyline points="670.8,285.0 673.2,293.8"/>
<polyline points="673.2,282.6 676.4,287.4"/>
<polyline points="684.4,279.4 687.6,283.4 692.4,285.0 694.8,289.0 698.8,285.8 698.8,279.4"/>
<polyline points="692.4,277.8 692.4,285.0"/>
<polyline points="694.8,289.0 690.0,294.6 693.2,298.6 695.6,305.0 698.8,306.6"/>
<polyline points="690.0,294.6 694.8,295.4 698.8,285.8"/>
<polyline points="702.0,279.4 702.0,285.0 698.8,285.0"/>
<polyline points="702.0,285.0 702.8,289.0 702.8,300.2"/>
<polyline points="698.8,285.0 698.8,306.6"/>
<polyline points="701.2,289.0 701.2,305.0"/>
<polyline points="704.4,289.0 704.4,300.2"/>
<polyline points="692.4,305.0 692.4,317.0"/>
<polyline points="692.4,312.2 695.6,312.2"/>
<polyline points="692.4,308.2 697.2,308.2"/>
<polyline points="694.8,305.0 694.8,312.2"/>
<polyline points="704.4,285.8 709.2,277.8 709.2,265.8"/>
<polyline points="709.2,277.8 714.8,279.4 716.4,276.2 721.2,274.6 726.0,274.6"/>
<polyline points="714.8,279.4 716.4,282.6 722.8,282.6 723.6,281.8"/>
<polyline points="716.4,282.6 719.6,286.6 722.0,286.6"/>
<polyline points="721.2,274.6 722.8,281.8"/>
<polyline points="723.6,274.6 723.6,281.8"/>
<polyline points="704.4,285.8 708.4,290.6 713.2,291.4 718.0,290.6 720.4,290.6"/>
<polyline points="708.4,290.6 708.4,300.2"/>
<polyline points="710.0,292.2 710.0,300.2"/>
<polyline points="712.4,292.2 712.4,300.2"/>
<polyline points="714.8,293.8 714.8,300.2"/>
<polyline points="713.2,291.4 717.2,296.2"/>
<polyline points="722.8,261.8 726.0,271.4 726.0,274.6"/>
<polyline points="722.8,254.6 722.8,261.8 717.2,261.0"/>
<polyline points="729.2,262.6 732.4,265.0 737.2,266.6"/>
<polyline points="729.2,262.6 731.6,259.4 734.0,258.6"/>
<polyline points="729.2,273.8 729.2,271.4 737.2,271.4"/>
<polyline points="732.4,268.2 732.4,273.8"/>
<polyline points="734.8,266.6 734.8,273.8"/>
<polyline points="732.4,268.2 739.6,268.2"/>
<polyline points="729.2,241.8 741.2,241.8"/>
<polyline points="730.8,239.4 738.8,239.4"/>
<polyline points="734.8,236.5 734.8,252.2"/>
<polyline points="732.4,236.5 732.4,247.4"/>
<polyline points="737.2,237.8 737.2,252.2"/>
<polyline points="729.2,244.2 739.6,244.2"/>
<polyline points="729.2,247.4 739.6,247.4"/>
<polyline points="725.2,248.2 729.2,248.2 729.2,244.2"/>
<polyline points="725.2,248.2 726.8,254.6 722.8,254.6"/>
<polyline points="730.8,247.4 730.8,252.2 734.0,252.2"/>
<polyline points="695.6,339.4 695.6,344.2 702.0,344.2"/>
<polyline points="698.8,339.4 698.8,344.2"/>
<polyline points="692.4,346.6 702.0,346.6"/>
<polyline points="692.4,346.6 692.4,353.0"/>
<polyline points="687.6,349.8 692.4,349.8"/>
<polyline points="686.0,351.4 686.0,353.0"/>
<polyline points="695.6,346.6 696.4,353.0"/>
<polyline points="687.6,337.0 687.6,349.8"/>
<polyline points="760.4,172.4 765.2,168.4 768.4,166.8 771.6,163.6 772.4,169.2 770.0,171.6 767.6,174.0 763.6,174.3 760.4,172.4"/>
<polyline points="765.2,168.4 765.2,174.0"/>
<polyline points="767.6,166.8 767.6,174.0"/>
<polyline points="770.0,166.0 770.0,171.6"/>
<polyline points="762.8,170.8 771.6,170.8"/>
<polyline points="765.2,168.4 772.4,168.4"/>
<polyline points="757.2,199.6 761.2,191.6 765.2,191.6 765.2,188.4 774.8,188.4 776.4,184.4 778.5,187.6 786.8,185.2 785.2,182.8 783.6,178.8 785.2,175.6 790.0,172.4 794.8,168.4 798.0,174.0 804.4,174.8 804.4,179.6 806.8,178.0 816.4,175.6 818.8,173.2 826.8,173.2 826.8,177.2 829.2,178.8 833.2,178.8 833.2,174.8 839.6,174.8 839.6,179.6 837.2,180.4 837.2,184.4 834.0,184.4 837.2,186.0 837.2,188.4 847.6,188.4 847.6,193.5 842.0,193.5 842.0,196.4 838.0,196.4 836.4,199.6 834.8,196.4 830.8,196.4 830.8,201.2 830.0,204.4 826.0,204.4 826.0,206.8 822.0,206.8 820.4,210.8 818.8,206.8 814.0,206.8 806.8,206.8 806.8,211.6 801.2,211.6 801.2,215.6 793.2,215.6 793.2,212.4 789.2,212.4 789.2,225.2 785.2,225.2 785.2,228.4 782.0,228.4 782.0,233.2 774.8,233.2 774.8,238.8 767.6,238.8 766.8,242.8 764.4,246.0 763.6,242.8 754.8,242.8 754.8,239.6 752.4,237.2 754.8,233.2 754.8,228.4 762.0,228.4 762.0,226.8 765.2,226.8 765.2,215.6 764.4,210.8 761.2,206.0 757.2,199.6"/>
<polyline points="765.2,191.6 765.2,215.6"/>
<polyline points="767.6,215.6 767.6,226.8"/>
<polyline points="765.2,226.8 765.2,242.8"/>
<polyline points="774.8,188.4 774.8,191.6 778.5,191.6"/>
<polyline points="778.5,187.6 780.4,198.0 777.2,201.2 775.6,207.6 776.4,214.0 778.0,218.8 782.8,215.6 789.2,215.6"/>
<polyline points="780.4,198.0 783.6,199.6 786.0,206.0 787.6,212.4 789.2,212.4"/>
<polyline points="780.4,198.0 782.8,196.4 798.8,196.4 820.4,196.4 822.0,193.2 825.2,193.2 828.4,189.2 827.6,183.6 829.2,178.8"/>
<polyline points="828.4,189.2 833.2,186.0 834.0,184.4"/>
<polyline points="786.8,185.2 787.6,191.6 782.8,196.4"/>
<polyline points="786.8,190.0 794.8,187.6 798.0,182.8 804.4,179.6"/>
<polyline points="798.0,174.0 798.0,182.8"/>
<polyline points="790.0,172.4 791.6,178.8 790.0,182.8 785.2,182.8"/>
<polyline points="806.8,178.0 807.6,182.0 806.0,188.4 801.2,193.2 798.8,196.4"/>
<polyline points="816.4,175.6 815.6,182.0 809.2,188.4 802.8,192.4"/>
<polyline points="818.8,173.2 817.2,178.8 825.2,178.0 826.8,177.2"/>
<polyline points="791.6,201.2 791.6,212.4"/>
<polyline points="794.8,201.2 794.8,215.6"/>
<polyline points="797.2,196.4 797.2,215.6"/>
<polyline points="798.8,196.4 798.8,215.6"/>
<polyline points="801.2,196.4 801.2,211.6"/>
<polyline points="803.6,196.4 803.6,211.6"/>
<polyline points="806.0,196.4 806.0,206.8"/>
<polyline points="808.4,196.4 808.4,206.8"/>
<polyline points="810.8,196.4 810.8,206.8"/>
<polyline points="813.2,196.4 813.2,206.8"/>
<polyline points="815.6,196.4 815.6,206.8"/>
<polyline points="818.0,196.4 818.0,206.8"/>
<polyline points="820.4,196.4 820.4,206.8"/>
<polyline points="822.8,196.4 822.8,206.8"/>
<polyline points="825.2,196.4 825.2,206.8"/>
<polyline points="827.6,196.4 827.6,204.4"/>
<polyline points="798.8,196.4 806.0,206.0"/>
<polyline points="801.2,196.4 806.8,205.2"/>
<polyline points="791.6,201.2 794.8,201.2"/>
<polyline points="789.2,209.2 801.2,209.2"/>
<polyline points="820.4,201.2 830.8,201.2"/>
<polyline points="822.0,193.2 822.0,196.4"/>
<polyline points="825.2,193.2 825.2,196.4"/>
<polyline points="830.0,196.4 830.0,204.4"/>
<polyline points="833.2,178.8 839.6,178.8"/>
<polyline points="833.2,181.2 837.2,181.2"/>
<polyline points="835.6,174.8 835.6,184.4"/>
<polyline points="833.2,174.8 833.2,184.4"/>
<polyline points="838.0,174.8 838.0,179.6"/>
<polyline points="833.2,176.9 839.6,176.9"/>
<polyline points="830.8,190.8 847.6,190.8"/>
<polyline points="833.2,186.0 833.2,196.4"/>
<polyline points="835.6,188.4 835.6,196.4"/>
<polyline points="838.0,188.4 838.0,196.4"/>
<polyline points="840.4,188.4 840.4,196.4"/>
<polyline points="842.8,188.4 842.8,193.5"/>
<polyline points="845.2,188.4 845.2,193.5"/>
<polyline points="830.8,190.8 830.8,196.4"/>
<polyline points="828.4,189.2 830.8,190.8"/>
<polyline points="778.0,218.8 778.0,221.2 773.2,223.6 773.2,233.2"/>
<polyline points="775.6,222.0 775.6,233.2"/>
<polyline points="778.0,221.2 778.0,233.2"/>
<polyline points="780.4,218.8 780.4,233.2"/>
<polyline points="782.8,215.6 782.8,228.4"/>
<polyline points="785.2,215.6 785.2,225.2"/>
<polyline points="786.8,215.6 786.8,225.2"/>
<polyline points="780.4,222.0 789.2,222.0"/>
<polyline points="778.0,218.8 789.2,218.8"/>
<polyline points="773.2,226.8 782.0,226.8"/>
<polyline points="773.2,230.0 782.0,230.0"/>
<polyline points="767.6,226.8 773.2,226.8"/>
<polyline points="770.0,226.8 770.0,238.8"/>
<polyline points="772.4,233.2 772.4,238.8"/>
<polyline points="765.2,231.6 770.0,236.4"/>
<polyline points="754.8,230.8 765.2,230.8"/>
<polyline points="754.8,234.8 765.2,234.8"/>
<polyline points="757.2,230.8 757.2,242.8"/>
<polyline points="758.8,230.8 758.8,242.8"/>
<polyline points="760.4,230.8 760.4,242.8"/>
<polyline points="762.0,228.4 762.0,242.8"/>
<polyline points="763.6,230.8 763.6,242.8"/>
<polyline points="767.6,233.2 767.6,238.8"/>
<polyline points="400.0,470.2 403.3,468.5 406.3,468.5"/>
<polyline points="400.0,470.2 403.1,473.3 406.3,473.3"/>
<polyline points="403.8,468.5 403.8,473.3"/>
<polyline points="414.5,460.3 410.3,460.3 410.3,462.6 406.3,462.6 406.3,476.8 410.5,476.8 410.5,473.3 414.5,473.3"/>
<polyline points="410.5,462.6 410.5,473.3"/>
<polyline points="408.2,465.9 408.2,476.0"/>
<polyline points="408.2,464.5 409.5,464.5 409.5,475.2"/>
<polyline points="414.5,460.0 413.2,459.5 414.5,455.0 415.9,453.3 418.5,452.2 419.9,452.5"/>
<polyline points="414.5,460.0 418.0,459.2 419.9,458.2"/>
<polyline points="414.5,460.0 414.5,489.9"/>
<polyline points="458.5,540.5 458.5,546.5 455.5,546.5 455.5,554.0 454.0,554.0 454.0,557.5 452.0,557.5 452.0,562.5 450.0,562.5 449.0,568.5 443.0,566.0"/>
<polyline points="455.5,546.5 452.0,546.5 452.0,549.0 454.0,549.0 454.0,554.0"/>
<polyline points="452.0,549.0 450.0,554.0 452.0,557.5"/>
<polyline points="455.5,544.0 458.5,544.0"/>
<polyline points="446.0,543.0 449.0,549.0 451.0,554.0"/>
<polyline points="446.0,543.0 451.0,545.5 452.0,546.5"/>
<polyline points="444.0,541.0 446.0,543.0"/>
<polyline points="450.0,557.0 452.0,557.5"/>
<polyline points="454.0,551.0 455.5,551.0"/>
<polyline points="450.0,560.0 452.0,560.0"/>
<polyline points="457.0,540.5 457.0,546.5"/>
<polyline points="455.5,542.5 458.5,542.5"/>
<polyline points="453.0,554.0 453.0,557.5"/>
<polyline points="451.0,557.5 451.0,562.5"/>
<polyline points="579.8,454.6 582.8,456.4 587.6,453.4 592.4,450.4 594.8,446.2 600.2,446.2 602.0,447.4 605.6,444.4 609.8,444.4 612.8,441.4 614.0,436.0"/>
<polyline points="579.2,468.4 579.2,465.4 583.4,465.4 583.4,462.4 587.6,462.4 587.6,459.4 592.4,459.4 592.4,456.4 597.2,456.4 597.2,454.0 600.8,454.0 600.8,457.0 603.2,457.0 603.2,454.0 609.2,454.0 609.2,451.6 620.0,451.6"/>
<polyline points="583.4,460.0 583.4,465.4"/>
<polyline points="587.6,456.4 587.6,462.4"/>
<polyline points="590.0,454.0 590.0,459.4"/>
<polyline points="592.4,450.4 592.4,459.4"/>
<polyline points="594.8,446.2 594.8,456.4"/>
<polyline points="597.2,449.2 597.2,456.4"/>
<polyline points="600.8,446.2 600.8,457.0"/>
<polyline points="603.2,448.0 603.2,457.0"/>
<polyline points="605.6,444.4 605.6,454.0"/>
<polyline points="609.2,444.4 609.2,454.0"/>
<polyline points="612.8,441.4 612.8,451.6"/>
<polyline points="585.2,455.2 585.2,462.4"/>
<polyline points="599.0,446.2 599.0,454.0"/>
<polyline points="607.4,444.4 607.4,454.0"/>
<polyline points="611.0,443.2 611.0,451.6"/></g>
<rect x="133.4" y="71.0" width="732.6" height="658.8" fill="none" stroke="#000" stroke-width="2"/>
<g stroke="#000" stroke-width="1"><line x1="182.5" y1="729.8" x2="182.5" y2="734.6"/><line x1="260.5" y1="729.8" x2="260.5" y2="734.6"/><line x1="338.5" y1="729.8" x2="338.5" y2="734.6"/><line x1="416.5" y1="729.8" x2="416.5" y2="734.6"/><line x1="494.5" y1="729.8" x2="494.5" y2="734.6"/><line x1="572.5" y1="729.8" x2="572.5" y2="734.6"/><line x1="650.5" y1="729.8" x2="650.5" y2="734.6"/><line x1="728.5" y1="729.8" x2="728.5" y2="734.6"/><line x1="806.5" y1="729.8" x2="806.5" y2="734.6"/><line x1="128.6" y1="94.3" x2="133.4" y2="94.3"/><line x1="128.6" y1="158.9" x2="133.4" y2="158.9"/><line x1="128.6" y1="223.5" x2="133.4" y2="223.5"/><line x1="128.6" y1="288.1" x2="133.4" y2="288.1"/><line x1="128.6" y1="352.7" x2="133.4" y2="352.7"/><line x1="128.6" y1="417.3" x2="133.4" y2="417.3"/><line x1="128.6" y1="481.9" x2="133.4" y2="481.9"/><line x1="128.6" y1="546.5" x2="133.4" y2="546.5"/><line x1="128.6" y1="611.1" x2="133.4" y2="611.1"/><line x1="128.6" y1="675.7" x2="133.4" y2="675.7"/></g>
<g><text transform="scale(0.820,1)" x="199.40 209.26 216.65 224.04 233.89 244.73" y="748.0" font-size="14.80" text-anchor="middle" fill="#000">63.18W</text><text transform="scale(0.820,1)" x="294.53 304.38 311.77 319.16 329.01 339.85" y="748.0" font-size="14.80" text-anchor="middle" fill="#000">63.15W</text><text transform="scale(0.820,1)" x="389.65 399.50 406.89 414.28 424.14 434.98" y="748.0" font-size="14.80" text-anchor="middle" fill="#000">63.12W</text><text transform="scale(0.820,1)" x="484.77 494.62 502.01 509.40 519.26 530.10" y="748.0" font-size="14.80" text-anchor="middle" fill="#000">63.09W</text><text transform="scale(0.820,1)" x="579.89 589.75 597.14 604.53 614.38 625.22" y="748.0" font-size="14.80" text-anchor="middle" fill="#000">63.06W</text><text transform="scale(0.820,1)" x="675.01 684.87 692.26 699.65 709.50 720.34" y="748.0" font-size="14.80" text-anchor="middle" fill="#000">63.03W</text><text transform="scale(0.820,1)" x="782.45 792.31 803.15" y="748.0" font-size="14.80" text-anchor="middle" fill="#000">63W</text><text transform="scale(0.820,1)" x="865.26 875.11 882.50 889.89 899.75 910.59" y="748.0" font-size="14.80" text-anchor="middle" fill="#000">62.97W</text><text transform="scale(0.820,1)" x="960.38 970.23 977.62 985.01 994.87 1005.71" y="748.0" font-size="14.80" text-anchor="middle" fill="#000">62.94W</text><text transform="scale(0.820,1)" x="103.77 113.62 121.01 128.40 138.26 148.60" y="99.6" font-size="14.80" text-anchor="middle" fill="#000">18.32N</text><text transform="scale(0.820,1)" x="113.62 123.48 130.87 138.26 148.60" y="164.2" font-size="14.80" text-anchor="middle" fill="#000">18.3N</text><text transform="scale(0.820,1)" x="103.77 113.62 121.01 128.40 138.26 148.60" y="228.8" font-size="14.80" text-anchor="middle" fill="#000">18.28N</text><text transform="scale(0.820,1)" x="103.77 113.62 121.01 128.40 138.26 148.60" y="293.4" font-size="14.80" text-anchor="middle" fill="#000">18.26N</text><text transform="scale(0.820,1)" x="103.77 113.62 121.01 128.40 138.26 148.60" y="358.0" font-size="14.80" text-anchor="middle" fill="#000">18.24N</text><text transform="scale(0.820,1)" x="103.77 113.62 121.01 128.40 138.26 148.60" y="422.6" font-size="14.80" text-anchor="middle" fill="#000">18.22N</text><text transform="scale(0.820,1)" x="113.62 123.48 130.87 138.26 148.60" y="487.2" font-size="14.80" text-anchor="middle" fill="#000">18.2N</text><text transform="scale(0.820,1)" x="103.77 113.62 121.01 128.40 138.26 148.60" y="551.8" font-size="14.80" text-anchor="middle" fill="#000">18.18N</text><text transform="scale(0.820,1)" x="103.77 113.62 121.01 128.40 138.26 148.60" y="616.4" font-size="14.80" text-anchor="middle" fill="#000">18.16N</text><text transform="scale(0.820,1)" x="103.77 113.62 121.01 128.40 138.26 148.60" y="681.0" font-size="14.80" text-anchor="middle" fill="#000">18.14N</text></g>
<text transform="scale(0.820,1)" x="218.38 238.07 253.81 264.15 277.43 296.13 314.34 332.54 351.24 368.46 380.27 393.56 411.28 425.55 435.39 445.23 460.48 475.74 490.50 507.23 521.01 536.26 552.01 566.28 585.96 606.63 621.39 636.15 654.36 670.11 685.85 699.14 712.42 731.12 748.35 764.09 781.31 800.01 818.71 835.93 854.63 873.33 890.55 906.30 922.05 935.33 948.62 967.32 984.54" y="27.9" font-size="29.40" text-anchor="middle" fill="#000" stroke="#fff" stroke-width="0.45" vector-effect="non-scaling-stroke">Caribbean Institute for Meteorology and Hydrology</text>
<text transform="scale(0.850,1)" x="71.64 87.38 100.96 120.50 141.13 161.77 179.14 195.97 216.06 236.69 253.52 269.81 289.90 308.90 327.91 345.28 362.11 381.66 395.77 410.43 425.09 435.95 452.78 469.61 480.47 495.13 515.76 533.68 557.57 590.15 614.04 630.32 648.78 670.50 693.85 713.94 732.40 752.49 767.14 775.83 790.49 809.49 829.04 850.76 872.48 892.02 911.57 933.28 956.09 978.89 1000.61 1020.16 1039.70 1061.42 1083.14 1104.85" y="55.1" font-size="32.80" text-anchor="middle" fill="#000" stroke="#fff" stroke-width="0.55" vector-effect="non-scaling-stroke">Disaggregated precipitation(mm) ANG Valid 05Z 07/05 2024</text>
<rect x="924.5" y="650.00" width="18.0" height="35.60" fill="#808080" stroke="#000" stroke-width="1.3"/><rect x="924.5" y="614.40" width="18.0" height="35.60" fill="#a000c8" stroke="#000" stroke-width="1.3"/><rect x="924.5" y="578.80" width="18.0" height="35.60" fill="#8200dc" stroke="#000" stroke-width="1.3"/><rect x="924.5" y="543.20" width="18.0" height="35.60" fill="#5032fa" stroke="#000" stroke-width="1.3"/><rect x="924.5" y="507.60" width="18.0" height="35.60" fill="#1e3cff" stroke="#000" stroke-width="1.3"/><rect x="924.5" y="472.00" width="18.0" height="35.60" fill="#00a0ff" stroke="#000" stroke-width="1.3"/><rect x="924.5" y="436.40" width="18.0" height="35.60" fill="#00c8c8" stroke="#000" stroke-width="1.3"/><rect x="924.5" y="400.80" width="18.0" height="35.60" fill="#00d28c" stroke="#000" stroke-width="1.3"/><rect x="924.5" y="365.20" width="18.0" height="35.60" fill="#00dc00" stroke="#000" stroke-width="1.3"/><rect x="924.5" y="329.60" width="18.0" height="35.60" fill="#a0e632" stroke="#000" stroke-width="1.3"/><rect x="924.5" y="294.00" width="18.0" height="35.60" fill="#e6dc32" stroke="#000" stroke-width="1.3"/><rect x="924.5" y="258.40" width="18.0" height="35.60" fill="#e6af2d" stroke="#000" stroke-width="1.3"/><rect x="924.5" y="222.80" width="18.0" height="35.60" fill="#f08228" stroke="#000" stroke-width="1.3"/><rect x="924.5" y="187.20" width="18.0" height="35.60" fill="#ffa0a0" stroke="#000" stroke-width="1.3"/><rect x="924.5" y="151.60" width="18.0" height="35.60" fill="#ff0000" stroke="#000" stroke-width="1.3"/><rect x="924.5" y="116.00" width="18.0" height="35.60" fill="#fa3c3c" stroke="#000" stroke-width="1.3"/><polygon points="924.5,116.0 942.5,116.0 933.5,80.5" fill="#f00082" stroke="#000" stroke-width="1.3"/><polygon points="924.5,685.6 942.5,685.6 933.5,720.5" fill="#fff" stroke="#000" stroke-width="1.3"/>
<g><text transform="scale(0.920,1)" x="1035.76 1044.89 1054.02" y="692.6" font-size="18.20" text-anchor="middle" fill="#000" stroke="#fff" stroke-width="0.20" vector-effect="non-scaling-stroke">0.5</text><text transform="scale(0.920,1)" x="1035.76" y="657.0" font-size="18.20" text-anchor="middle" fill="#000" stroke="#fff" stroke-width="0.20" vector-effect="non-scaling-stroke">1</text><text transform="scale(0.920,1)" x="1035.76" y="621.4" font-size="18.20" text-anchor="middle" fill="#000" stroke="#fff" stroke-width="0.20" vector-effect="non-scaling-stroke">2</text><text transform="scale(0.920,1)" x="1035.76" y="585.8" font-size="18.20" text-anchor="middle" fill="#000" stroke="#fff" stroke-width="0.20" vector-effect="non-scaling-stroke">5</text><text transform="scale(0.920,1)" x="1035.76 1047.93" y="550.2" font-size="18.20" text-anchor="middle" fill="#000" stroke="#fff" stroke-width="0.20" vector-effect="non-scaling-stroke">10</text><text transform="scale(0.920,1)" x="1035.76 1047.93" y="514.6" font-size="18.20" text-anchor="middle" fill="#000" stroke="#fff" stroke-width="0.20" vector-effect="non-scaling-stroke">15</text><text transform="scale(0.920,1)" x="1035.76 1047.93" y="479.0" font-size="18.20" text-anchor="middle" fill="#000" stroke="#fff" stroke-width="0.20" vector-effect="non-scaling-stroke">20</text><text transform="scale(0.920,1)" x="1035.76 1047.93" y="443.4" font-size="18.20" text-anchor="middle" fill="#000" stroke="#fff" stroke-width="0.20" vector-effect="non-scaling-stroke">25</text><text transform="scale(0.920,1)" x="1035.76 1047.93" y="407.8" font-size="18.20" text-anchor="middle" fill="#000" stroke="#fff" stroke-width="0.20" vector-effect="non-scaling-stroke">30</text><text transform="scale(0.920,1)" x="1035.76 1047.93" y="372.2" font-size="18.20" text-anchor="middle" fill="#000" stroke="#fff" stroke-width="0.20" vector-effect="non-scaling-stroke">35</text><text transform="scale(0.920,1)" x="1035.76 1047.93" y="336.6" font-size="18.20" text-anchor="middle" fill="#000" stroke="#fff" stroke-width="0.20" vector-effect="non-scaling-stroke">40</text><text transform="scale(0.920,1)" x="1035.76 1047.93" y="301.0" font-size="18.20" text-anchor="middle" fill="#000" stroke="#fff" stroke-width="0.20" vector-effect="non-scaling-stroke">50</text><text transform="scale(0.920,1)" x="1035.76 1047.93" y="265.4" font-size="18.20" text-anchor="middle" fill="#000" stroke="#fff" stroke-width="0.20" vector-effect="non-scaling-stroke">60</text><text transform="scale(0.920,1)" x="1035.76 1047.93" y="229.8" font-size="18.20" text-anchor="middle" fill="#000" stroke="#fff" stroke-width="0.20" vector-effect="non-scaling-stroke">70</text><text transform="scale(0.920,1)" x="1035.76 1047.93" y="194.2" font-size="18.20" text-anchor="middle" fill="#000" stroke="#fff" stroke-width="0.20" vector-effect="non-scaling-stroke">80</text><text transform="scale(0.920,1)" x="1035.76 1047.93" y="158.6" font-size="18.20" text-anchor="middle" fill="#000" stroke="#fff" stroke-width="0.20" vector-effect="non-scaling-stroke">90</text><text transform="scale(0.920,1)" x="1035.76 1047.93 1060.11" y="123.0" font-size="18.20" text-anchor="middle" fill="#000" stroke="#fff" stroke-width="0.20" vector-effect="non-scaling-stroke">100</text></g>
</svg>
</body></html>
